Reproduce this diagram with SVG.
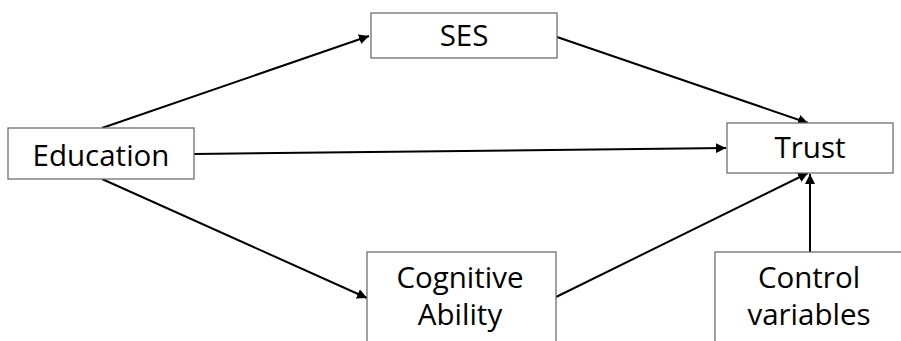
<svg xmlns="http://www.w3.org/2000/svg" width="901" height="341" viewBox="0 0 901 341">
<style>
.box{fill:#fff;stroke:#6f6f6f;stroke-width:1.3}
.lbl{font-family:"Open Sans","Liberation Sans",sans-serif;font-size:29.5px;fill:#000;text-anchor:middle}
.edge{stroke:#000;stroke-width:2;fill:none;marker-end:url(#ah)}
</style>
<defs>
<marker id="ah" viewBox="0 0 10 10" refX="10" refY="5" markerWidth="5" markerHeight="5" orient="auto" markerUnits="strokeWidth">
<path d="M0,0 L10,5 L0,10 z" fill="#000"/>
</marker>
</defs>
<rect width="901" height="341" fill="#fff"/>
<g id="connectors">
<line class="edge" x1="102" y1="128" x2="369" y2="36"/>
<line class="edge" x1="557" y1="37" x2="808" y2="123"/>
<line class="edge" x1="194" y1="154" x2="726" y2="148"/>
<line class="edge" x1="102" y1="179" x2="367" y2="298"/>
<line class="edge" x1="556" y1="297" x2="808" y2="173"/>
<line class="edge" x1="810" y1="252" x2="810" y2="174"/>
</g>
<g id="ses">
<rect class="box" x="371" y="13" width="186" height="45"/>
<text class="lbl" x="464" y="46">SES</text>
</g>
<g id="education">
<rect class="box" x="8" y="128" width="186" height="51"/>
<text class="lbl" x="101" y="166">Education</text>
</g>
<g id="trust">
<rect class="box" x="727" y="123" width="166" height="50"/>
<text class="lbl" x="810" y="158">Trust</text>
</g>
<g id="cognitive">
<rect class="box" x="367" y="252" width="189" height="100"/>
<text class="lbl" x="460" y="288">Cognitive</text>
<text class="lbl" x="460" y="325">Ability</text>
</g>
<g id="control">
<rect class="box" x="715" y="252" width="200" height="100"/>
<text class="lbl" x="809" y="288">Control</text>
<text class="lbl" x="809" y="325">variables</text>
</g>
</svg>
